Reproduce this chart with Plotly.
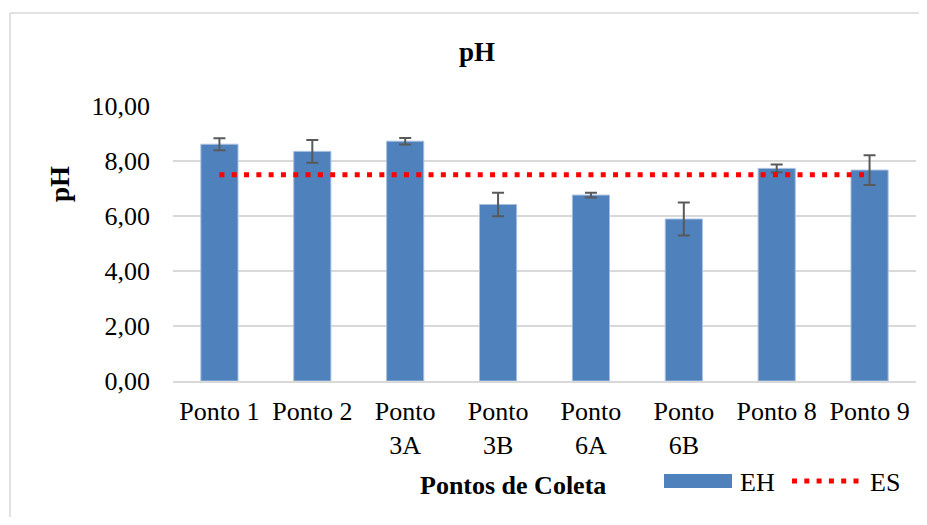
import plotly.graph_objects as go

categories = ["Ponto 1", "Ponto 2", "Ponto<br>3A", "Ponto<br>3B", "Ponto<br>6A", "Ponto<br>6B", "Ponto 8", "Ponto 9"]
eh_values = [8.61, 8.35, 8.72, 6.42, 6.76, 5.89, 7.73, 7.67]
eh_errors = [0.22, 0.41, 0.12, 0.43, 0.09, 0.60, 0.14, 0.54]
es_values = [7.5, 7.5, 7.5, 7.5, 7.5, 7.5, 7.5, 7.5]
y_ticks = [0, 2, 4, 6, 8, 10]
y_tick_labels = ["0,00", "2,00", "4,00", "6,00", "8,00", "10,00"]

FONT = "Liberation Serif, Times New Roman, serif"
OFF = 8  # page body margin
W, H = 927 - 2 * OFF, 525 - 2 * OFF
L, R, T, B = 173 - OFF, 916 - OFF, 106 - OFF, 381 - OFF
PW, PH = R - L, B - T

def px(x):
    return (x - OFF - L) / PW

def py(y):
    return (B - (y - OFF)) / PH

fig = go.Figure()
fig.add_trace(go.Bar(
    x=categories, y=eh_values, name="EH",
    marker=dict(color="#4F81BD", line=dict(color="#A7BFDE", width=1)),
    width=0.4,
    error_y=dict(type="data", array=eh_errors, visible=True,
                 color="#595959", thickness=2, width=6),
    showlegend=False,
))
fig.add_trace(go.Scatter(
    x=categories, y=es_values, name="ES", mode="lines",
    line=dict(color="#FF0000", width=5, dash="5px,7.3px"),
    showlegend=False,
))

shapes = [
    # chart border: left and top edges (right/bottom are outside the picture)
    dict(type="line", xref="paper", yref="paper",
         x0=px(10), x1=px(10), y0=py(OFF + H), y1=py(13),
         line=dict(color="#D9D9D9", width=1.5), layer="below"),
    dict(type="line", xref="paper", yref="paper",
         x0=px(10), x1=px(OFF + W), y0=py(13), y1=py(13),
         line=dict(color="#D9D9D9", width=1.5), layer="below"),
    dict(type="rect", xref="paper", yref="paper",
         x0=px(664), x1=px(732), y0=py(488), y1=py(474),
         line=dict(width=0), fillcolor="#4F81BD"),
    dict(type="line", xref="paper", yref="paper",
         x0=px(792), x1=px(862), y0=py(481), y1=py(481),
         line=dict(color="#FF0000", width=5, dash="5px,7.3px")),
]

annotations = [
    dict(text="<b>Pontos de Coleta</b>", xref="paper", yref="paper",
         x=px(513), y=py(485), xanchor="center", yanchor="middle", showarrow=False,
         font=dict(family=FONT, size=26, color="#000000")),
    dict(text="<b>pH</b>", xref="paper", yref="paper", textangle=-90,
         x=px(60), y=py(184), xanchor="center", yanchor="middle", showarrow=False,
         font=dict(family=FONT, size=27, color="#000000")),
    dict(text="EH", xref="paper", yref="paper",
         x=px(738), y=py(482), xanchor="left", yanchor="middle", showarrow=False,
         font=dict(family=FONT, size=26, color="#000000")),
    dict(text="ES", xref="paper", yref="paper",
         x=px(868), y=py(482), xanchor="left", yanchor="middle", showarrow=False,
         font=dict(family=FONT, size=26, color="#000000")),
]

fig.update_layout(
    width=W, height=H,
    margin=dict(l=L, r=W - R, t=T, b=H - B, pad=0),
    paper_bgcolor="white", plot_bgcolor="white",
    title=dict(text="<b>pH</b>", x=px(477), xref="paper", xanchor="center",
               y=1 - (52 - OFF) / H, yref="container", yanchor="middle",
               font=dict(family=FONT, size=27, color="#000000")),
    font=dict(family=FONT, size=26, color="#000000"),
    xaxis=dict(showgrid=False, showline=True, linecolor="#D9D9D9", linewidth=1.5,
               ticks="", tickfont=dict(family=FONT, size=26, color="#000000"),
               ticklabelstandoff=6),
    yaxis=dict(range=[0, 10], tickvals=y_ticks, ticktext=y_tick_labels,
               showgrid=True, gridcolor="#D9D9D9", gridwidth=1.5,
               zeroline=False, showline=False, ticks="",
               tickfont=dict(family=FONT, size=26, color="#000000"),
               ticklabelstandoff=22),
    shapes=shapes,
    annotations=annotations,
    showlegend=False,
)

fig.write_html("out.html")
